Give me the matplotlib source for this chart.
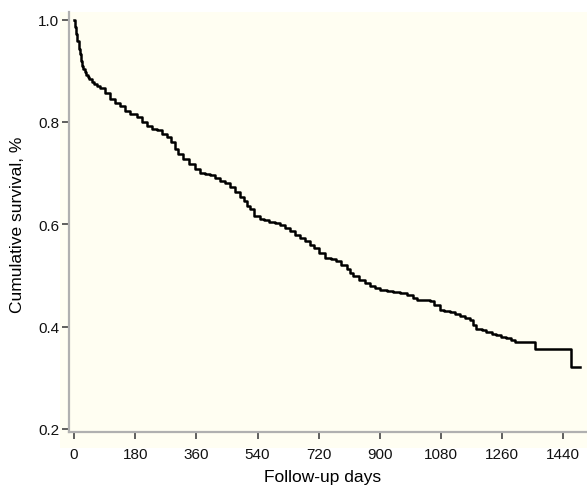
import matplotlib
matplotlib.use("Agg")
import matplotlib.pyplot as plt
from matplotlib.patches import Rectangle

# Kaplan-Meier curve (day, cumulative survival)
days = [0, 3, 6, 9, 13, 16, 20, 24, 27, 32, 36, 40, 45, 52, 60, 68, 75, 90,
        106, 120, 135, 150, 165, 184,
        200, 214, 230, 245, 260, 273, 285, 296, 305, 320, 338, 355, 371, 385,
        400, 415, 430, 445, 460, 475, 488, 500, 510, 518, 530, 547, 560, 575,
        590, 606, 620, 635, 650, 665, 680, 695, 705, 720, 738, 755, 770, 785,
        802, 812, 821, 840, 855, 871, 885, 900, 920, 940, 960, 980, 997, 1010,
        1047, 1060, 1076, 1090, 1106, 1120, 1135, 1150, 1165, 1175, 1184, 1200,
        1214, 1230, 1243, 1258, 1273, 1285, 1297, 1356, 1464, 1488]
survival = [1.0, 0.985, 0.972, 0.958, 0.943, 0.932, 0.92, 0.91, 0.904, 0.897,
            0.892, 0.888, 0.884, 0.879, 0.874, 0.870, 0.866, 0.857,
            0.845, 0.838, 0.831, 0.822, 0.816, 0.810, 0.800, 0.792, 0.787, 0.784,
            0.777, 0.771, 0.760, 0.748, 0.738, 0.728, 0.717, 0.708, 0.701, 0.698,
            0.696, 0.690, 0.685, 0.680, 0.672, 0.663, 0.654, 0.645, 0.636, 0.630,
            0.617, 0.611, 0.609, 0.605, 0.602, 0.598, 0.592, 0.586, 0.580, 0.574,
            0.567, 0.559, 0.553, 0.543, 0.534, 0.532, 0.528, 0.521, 0.513, 0.504,
            0.498, 0.491, 0.485, 0.479, 0.475, 0.472, 0.470, 0.468, 0.465, 0.461,
            0.456, 0.452, 0.450, 0.442, 0.433, 0.431, 0.429, 0.425, 0.421, 0.417,
            0.413, 0.404, 0.396, 0.393, 0.390, 0.386, 0.383, 0.380, 0.377, 0.374,
            0.370, 0.356, 0.321, 0.321]

x_ticks = [0, 180, 360, 540, 720, 900, 1080, 1260, 1440]
y_ticks = [0.2, 0.4, 0.6, 0.8, 1.0]

plt.rcParams['font.family'] = ['Liberation Sans', 'DejaVu Sans']

W, H = 587, 489
fig = plt.figure(figsize=(W / 100, H / 100), dpi=100)

# cream panel behind the axes (reaches a bit past the spines)
fig.patches.append(Rectangle((60 / W, 1 - 449 / H), (W - 60) / W, (449 - 13) / H,
                             transform=fig.transFigure, facecolor='#fffef2',
                             edgecolor='none', zorder=-1))

ax = fig.add_axes([69 / W, 1 - 433 / H, (W - 69) / W, (433 - 13) / H])
ax.set_facecolor('none')
ax.set_zorder(1)

ax.step(days, survival, where='post', color='black', lw=1.8)

ax.set_xlim(-15, 1510)
ax.set_ylim(0.194, 1.015)
ax.set_xticks(x_ticks)
ax.set_yticks(y_ticks)
ax.set_yticklabels([f"{v:.1f}" for v in y_ticks])

for side in ['top', 'right']:
    ax.spines[side].set_visible(False)
for side in ['left', 'bottom']:
    ax.spines[side].set_color('#b0b0b0')
    ax.spines[side].set_linewidth(1.6)

ax.tick_params(axis='both', direction='out', length=5, width=1.2,
               color='#444444', labelsize=11, labelcolor='#111111', pad=2)
ax.tick_params(axis='x', pad=6)

# axis titles placed where the reference has them
fig.text(323 / W, 1 - 478 / H, 'Follow-up days', fontsize=12.5,
         ha='center', va='center')
fig.text(18 / W, 1 - 225 / H, 'Cumulative survival, %', fontsize=12.5,
         ha='center', va='center', rotation=90)

fig.savefig('out.png', dpi=100)
